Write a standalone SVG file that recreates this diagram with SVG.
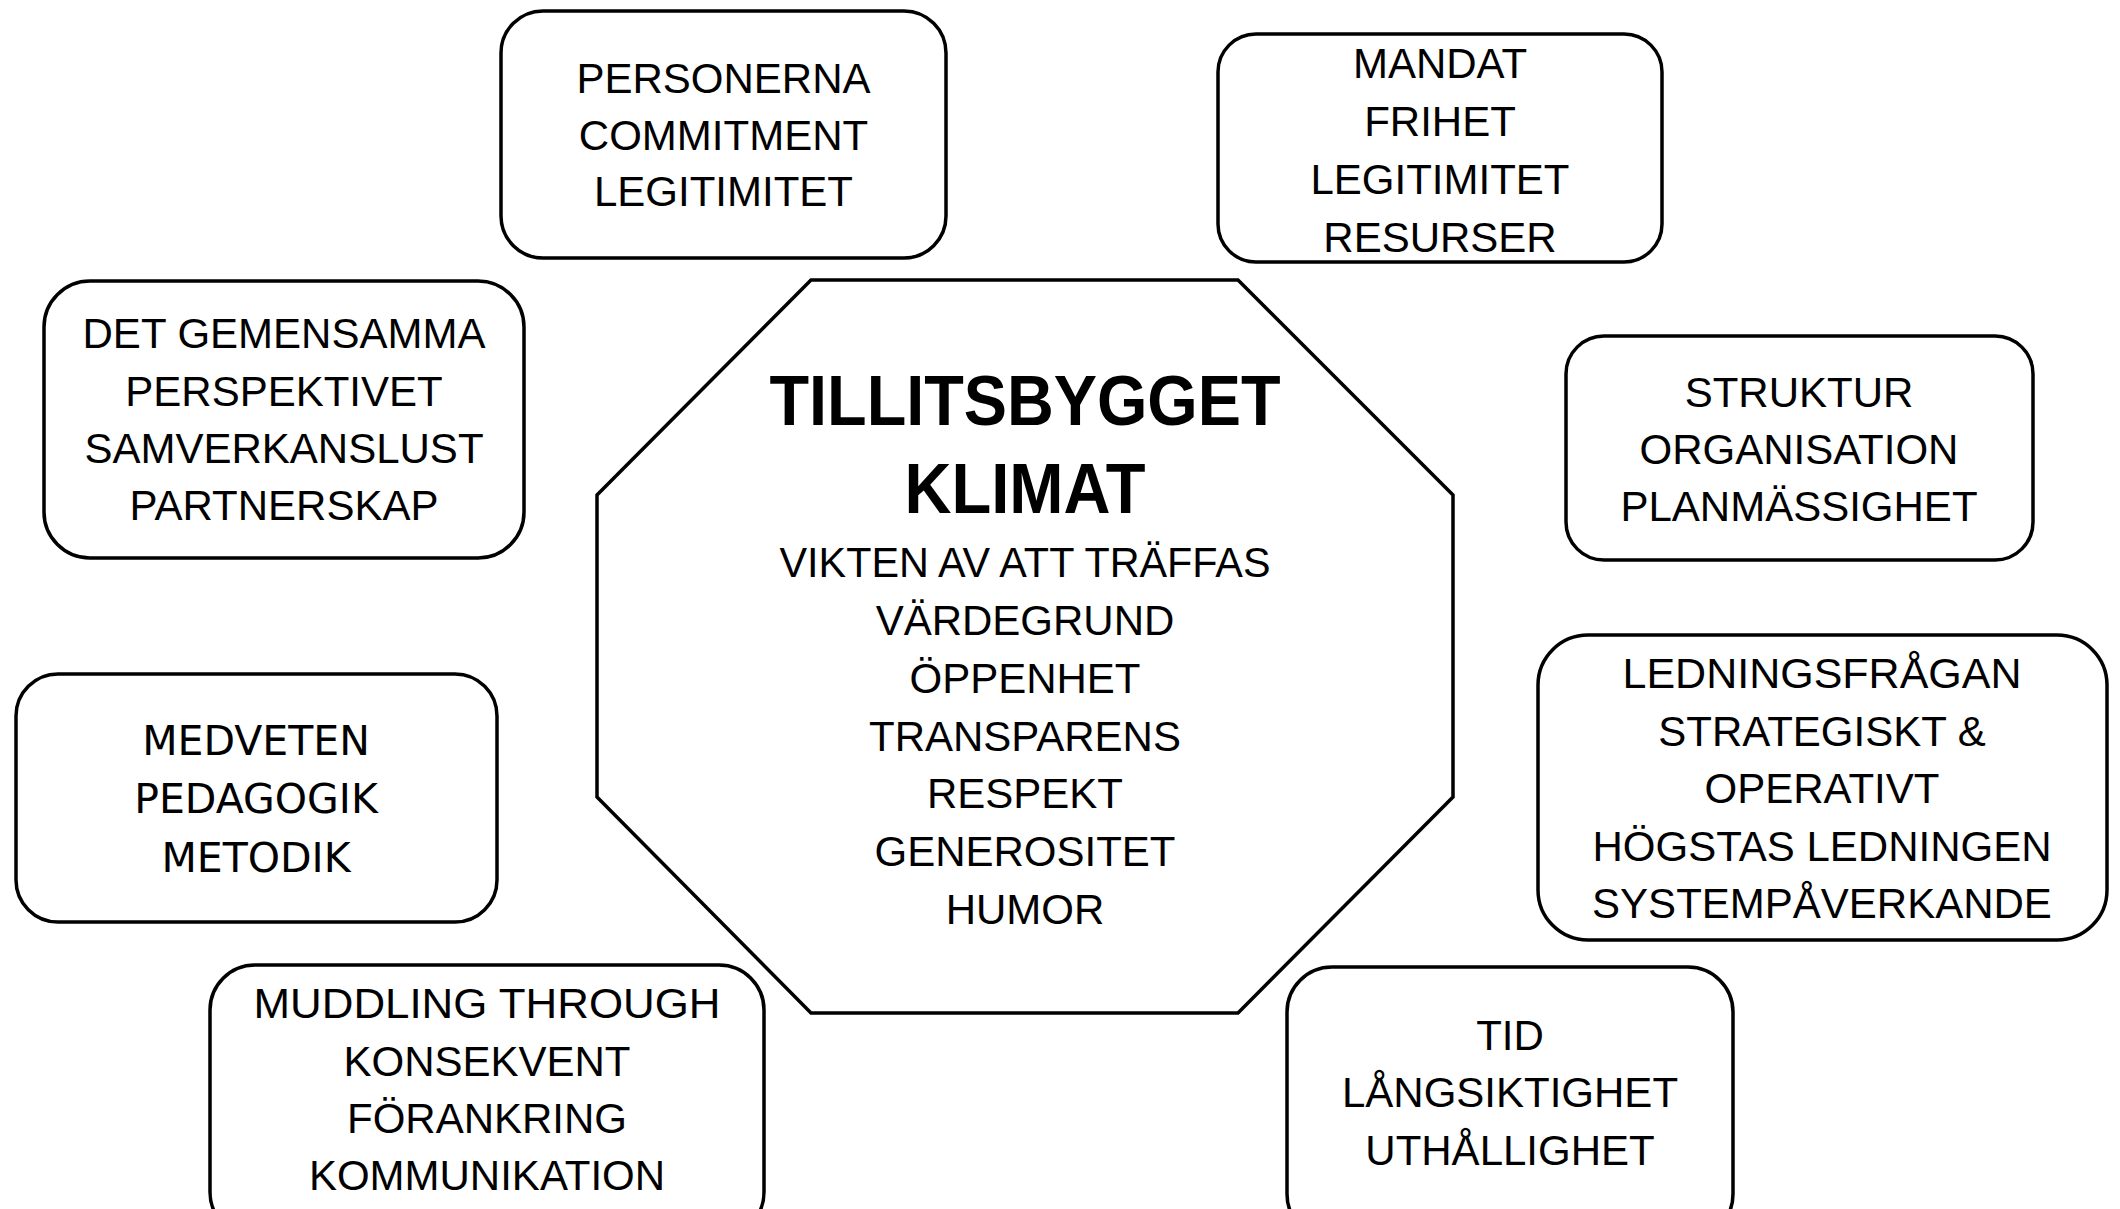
<svg xmlns="http://www.w3.org/2000/svg" width="2120" height="1209" viewBox="0 0 2120 1209">
<style>
.box{fill:#fff;stroke:#000;stroke-width:3.5}
.t{font-family:"Liberation Sans",Arial,sans-serif;font-size:42px;fill:#000;text-anchor:middle}
.v{font-family:"DejaVu Sans",Verdana,sans-serif;font-size:41px;fill:#000;text-anchor:middle}
.h{font-family:"Liberation Sans",Arial,sans-serif;font-size:70px;font-weight:bold;fill:#000;text-anchor:middle}
</style>
<rect width="2120" height="1209" fill="#fff"/>
<g id="connectors"/>
<g id="center">
<polygon class="box" points="811,280 1238,280 1453,495 1453,797 1238,1013 811,1013 597,797 597,495"/>
<text class="h" x="1025" y="425" textLength="511" lengthAdjust="spacingAndGlyphs">TILLITSBYGGET</text>
<text class="h" x="1025" y="513" textLength="241" lengthAdjust="spacingAndGlyphs">KLIMAT</text>
<text class="t" x="1025" y="577" textLength="491" lengthAdjust="spacingAndGlyphs">VIKTEN AV ATT TRÄFFAS</text>
<text class="t" x="1025" y="635">VÄRDEGRUND</text>
<text class="t" x="1025" y="693">ÖPPENHET</text>
<text class="t" x="1025" y="751">TRANSPARENS</text>
<text class="t" x="1025" y="808">RESPEKT</text>
<text class="t" x="1025" y="866">GENEROSITET</text>
<text class="t" x="1025" y="924">HUMOR</text>
</g>
<g id="personerna">
<rect class="box" x="501" y="11" width="445" height="247" rx="42"/>
<text class="t" x="723.5" y="93">PERSONERNA</text>
<text class="t" x="723.5" y="150">COMMITMENT</text>
<text class="t" x="723.5" y="206">LEGITIMITET</text>
</g>
<g id="mandat">
<rect class="box" x="1218" y="34" width="444" height="228" rx="38"/>
<text class="t" x="1440" y="78">MANDAT</text>
<text class="t" x="1440" y="136">FRIHET</text>
<text class="t" x="1440" y="194">LEGITIMITET</text>
<text class="t" x="1440" y="252">RESURSER</text>
</g>
<g id="gemensamma">
<rect class="box" x="44" y="281" width="480" height="277" rx="46"/>
<text class="t" x="284" y="348">DET GEMENSAMMA</text>
<text class="t" x="284" y="406">PERSPEKTIVET</text>
<text class="t" x="284" y="463">SAMVERKANSLUST</text>
<text class="t" x="284" y="520">PARTNERSKAP</text>
</g>
<g id="struktur">
<rect class="box" x="1566" y="336" width="467" height="224" rx="38"/>
<text class="t" x="1799" y="407">STRUKTUR</text>
<text class="t" x="1799" y="464">ORGANISATION</text>
<text class="t" x="1799" y="521">PLANMÄSSIGHET</text>
</g>
<g id="medveten">
<rect class="box" x="16" y="674" width="481" height="248" rx="42"/>
<text class="v" x="256" y="755">MEDVETEN</text>
<text class="v" x="256" y="813">PEDAGOGIK</text>
<text class="v" x="256" y="872">METODIK</text>
</g>
<g id="ledning">
<rect class="box" x="1538" y="635" width="569" height="305" rx="50"/>
<text class="t" x="1822" y="688" textLength="399" lengthAdjust="spacingAndGlyphs">LEDNINGSFRÅGAN</text>
<text class="t" x="1822" y="746">STRATEGISKT &amp;</text>
<text class="t" x="1822" y="803">OPERATIVT</text>
<text class="t" x="1822" y="861">HÖGSTAS LEDNINGEN</text>
<text class="t" x="1822" y="918">SYSTEMPÅVERKANDE</text>
</g>
<g id="muddling">
<rect class="box" x="210" y="965" width="554" height="272" rx="45"/>
<text class="t" x="487" y="1018" textLength="467" lengthAdjust="spacingAndGlyphs">MUDDLING THROUGH</text>
<text class="t" x="487" y="1076">KONSEKVENT</text>
<text class="t" x="487" y="1133">FÖRANKRING</text>
<text class="t" x="487" y="1190">KOMMUNIKATION</text>
</g>
<g id="tid">
<rect class="box" x="1287" y="967" width="446" height="272" rx="45"/>
<text class="t" x="1510" y="1050">TID</text>
<text class="t" x="1510" y="1107">LÅNGSIKTIGHET</text>
<text class="t" x="1510" y="1165">UTHÅLLIGHET</text>
</g>
</svg>
